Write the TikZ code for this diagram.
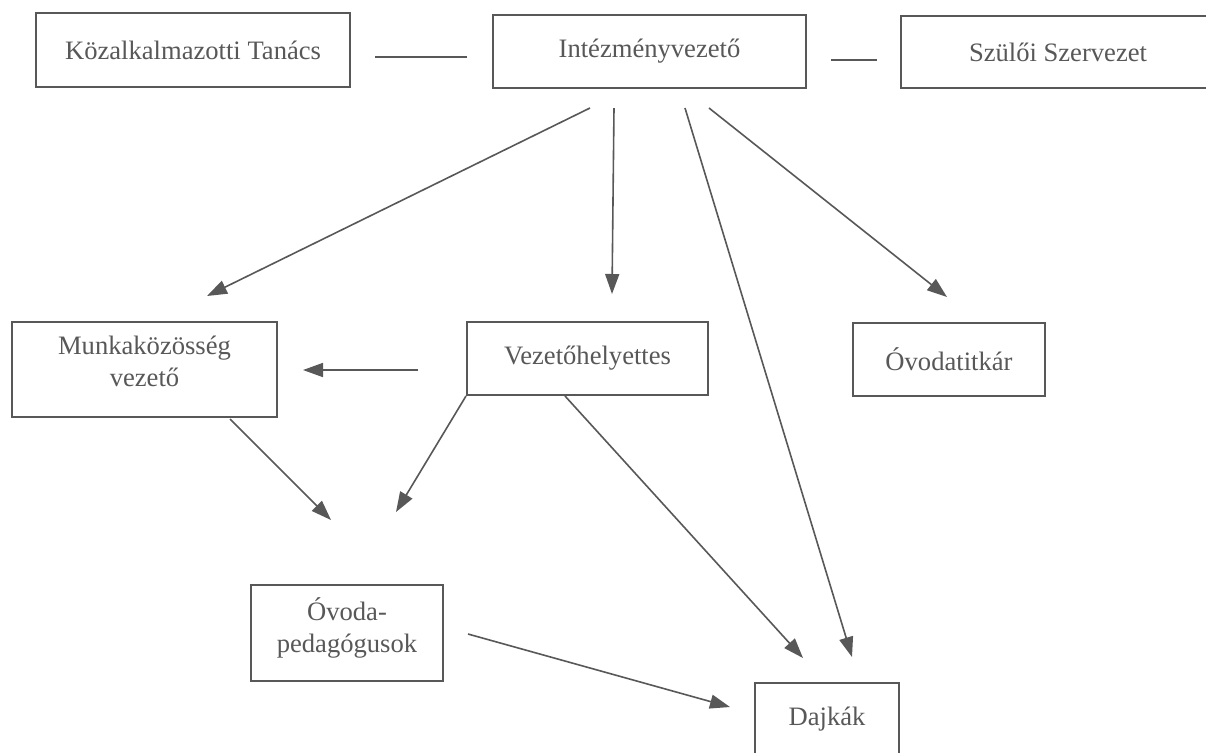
\documentclass[tikz,border=0pt]{standalone}
\usepackage{fontspec}
\setmainfont{Liberation Serif}
\usepackage{tikz}
\usetikzlibrary{positioning,calc,arrows.meta}
\definecolor{ink}{RGB}{88,88,88}

\begin{document}
\begin{tikzpicture}[x=0.5pt,y=-0.5pt,
        box/.style={draw=ink, line width=1pt, text=ink, align=center,
            font=\fontsize{13.3}{16}\selectfont, inner sep=0pt},
        conn/.style={draw=ink, line width=0.8pt},
        arr/.style={conn, -{Triangle[length=10pt,width=7pt]}}]
        \useasboundingbox[fill=white] (0,0) rectangle (1206,752);

        % top row
        \node[box, minimum width=157pt, minimum height=37pt] (kt) at (193,50) {Közalkalmazotti Tanács};
        \node[box, minimum width=156.5pt, minimum height=36.5pt] (iv) at (649.5,51.5) {Intézményvezető};
        \node[box, minimum width=157pt, minimum height=36pt] (szsz) at (1058,52) {Szülői Szervezet};

        % middle row
        \node[box, minimum width=132.5pt, minimum height=47.5pt, text depth=8pt] (mk) at (144.5,369.5) {Munkaközösség\\vezető};
        \node[box, minimum width=120.5pt, minimum height=36.5pt] (vh) at (587.5,358.5) {Vezetőhelyettes};
        \node[box, minimum width=96pt, minimum height=36.5pt] (ot) at (949,359.5) {Óvodatitkár};

        % bottom
        \node[box, minimum width=96pt, minimum height=48pt, text depth=8pt] (op) at (347,633) {Óvoda-\\pedagógusok};
        \node[box, minimum width=72pt, minimum height=36.5pt] (dj) at (827,719.5) {Dajkák};

        \draw[conn] ($(kt.east)+(24,7)$) -- ($(iv.west)+(-25,5.5)$);
        \draw[conn] ($(iv.east)+(24,8.5)$) -- ($(szsz.west)+(-23,8)$);

        \draw[arr] ($(iv.south)+(-59.5,19)$) -- ($(mk.north)+(62.5,-25)$);
        \draw[arr] ($(iv.south)+(-35.5,19)$) -- ($(vh.north)+(24.5,-27)$);
        \draw[arr] ($(iv.south)+(35.5,19)$) -- ($(dj.north)+(25,-25)$);
        \draw[arr] ($(iv.south)+(59.5,19)$) -- ($(ot.north)+(-2,-25)$);
        \draw[arr] ($(vh.west)+(-48,11.5)$) -- ($(mk.east)+(25,0.5)$);
        \draw[arr] ($(mk.south)+(85.5,1)$) -- ($(op.north)+(-16,-64)$);
        \draw[arr] (vh.south west) -- ($(op.north)+(49,-72)$);
        \draw[arr] ($(vh.south)+(-22.5,0)$) -- ($(dj.north)+(-24,-24)$);
        \draw[arr] ($(op.east)+(24,1)$) -- ($(dj.west)+(-24,-12.5)$);

    \end{tikzpicture}
\end{document}
